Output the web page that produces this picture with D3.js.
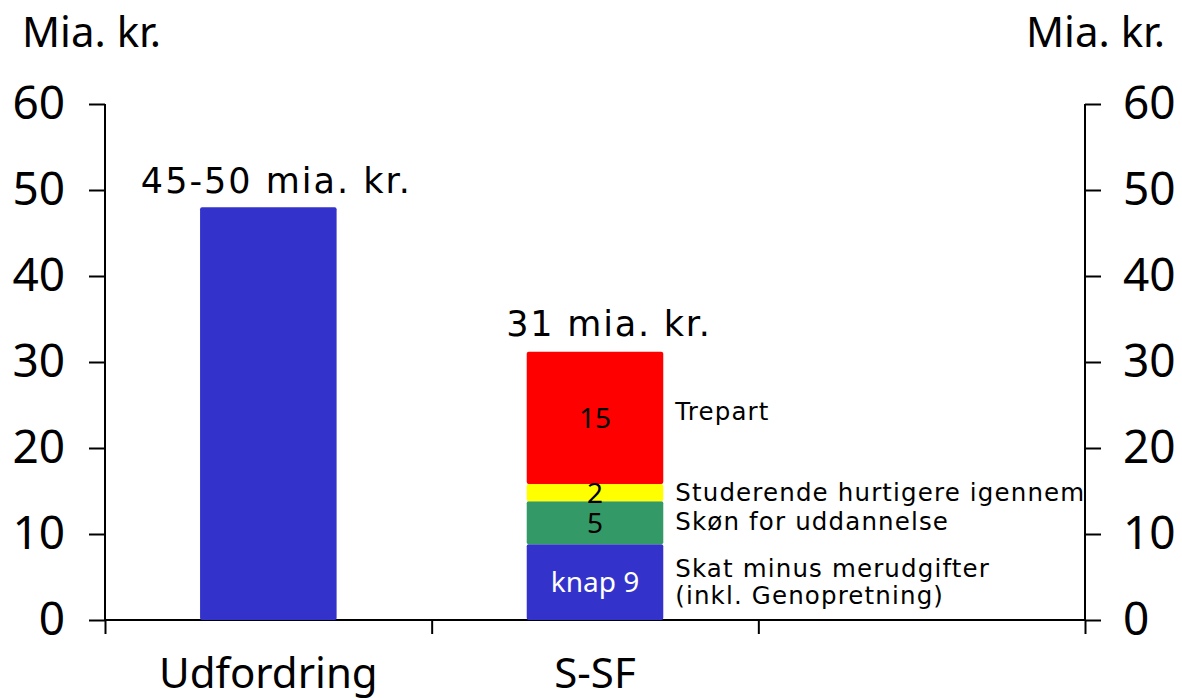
<!DOCTYPE html>
<html><head><meta charset="utf-8">
<script src="https://cdn.jsdelivr.net/npm/d3@7"></script>
<style>body{margin:0;background:#fff}</style>
</head><body>
<svg id="c" width="1182" height="698"></svg>
<script>
const categories = ["Udfordring", "S-SF", ""];
const challengeValue = 48;
const challengeLabel = "45-50 mia. kr.";
const segNames = ["Skat minus merudgifter\n(inkl. Genopretning)", "Skøn for uddannelse", "Studerende hurtigere igennem", "Trepart"];
const segValues = [8.8, 5, 2, 15.4];
const segLabels = ["knap 9", "5", "2", "15"];
const segColors = ["#3333CC", "#339966", "#FFFF00", "#FF0000"];
const segTextColors = ["#ffffff", "#000000", "#000000", "#000000"];
const stackLabel = "31 mia. kr.";
const yTicks = [0, 10, 20, 30, 40, 50, 60];
const axisTitle = "Mia. kr.";

const svg = d3.select("#c");
const L = 105, R = 1085, T = 104, B = 620;
const y = d3.scaleLinear().domain([0, 60]).range([B, T]);
const xb = d3.scaleBand().domain(categories).range([L, R]).padding(0);
const xl = d3.scaleLinear().domain([0, categories.length]).range([L, R]);
const barW = xb.bandwidth() * 0.418;
const numFont = "'Noto Sans', sans-serif";
const txtFont = "'DejaVu Sans', sans-serif";

// axes
const ga = svg.append("g").attr("transform", `translate(${L},0)`)
  .call(d3.axisLeft(y).tickValues(yTicks).tickSize(16).tickPadding(24));
const gr = svg.append("g").attr("transform", `translate(${R},0)`)
  .call(d3.axisRight(y).tickValues(yTicks).tickSize(16).tickPadding(22));
[ga, gr].forEach(g => {
  g.select(".domain").attr("stroke", "#000").attr("stroke-width", 2).attr("d", `M0,${T}V${B}`);
  g.selectAll(".tick line").attr("stroke", "#000").attr("stroke-width", 2);
  g.selectAll(".tick text").attr("font-family", numFont).attr("font-size", 46).attr("fill", "#000");
});
const gx = svg.append("g").attr("transform", `translate(0,${B})`)
  .call(d3.axisBottom(xl).tickValues(d3.range(categories.length + 1)).tickFormat("").tickSize(14));
gx.select(".domain").attr("stroke", "#000").attr("stroke-width", 2).attr("d", `M${L},0H${R}`);
gx.selectAll(".tick line").attr("stroke", "#000").attr("stroke-width", 2);

// category labels
svg.append("g").selectAll("text").data(categories.filter(d => d)).join("text")
  .attr("x", d => xb(d) + xb.bandwidth() / 2).attr("y", 688)
  .attr("text-anchor", "middle").attr("font-family", numFont).attr("font-size", 42).text(d => d);

// axis titles
svg.append("text").attr("x", 22).attr("y", 47).attr("font-family", numFont).attr("font-size", 42).text(axisTitle);
svg.append("text").attr("x", 1165).attr("y", 47).attr("text-anchor", "end").attr("font-family", numFont).attr("font-size", 42).text(axisTitle);

// challenge bar
const c0 = xb(categories[0]) + xb.bandwidth() / 2;
svg.append("rect").attr("x", c0 - barW / 2).attr("width", barW)
  .attr("y", y(challengeValue)).attr("height", y(0) - y(challengeValue))
  .attr("fill", "#3333CC").attr("rx", 2);
svg.append("text").attr("x", c0 + 8).attr("y", y(challengeValue) - 14).attr("text-anchor", "middle")
  .attr("font-family", txtFont).attr("font-size", 35).attr("letter-spacing", 2).text(challengeLabel);

// stacked bar
const c1 = xb(categories[1]) + xb.bandwidth() / 2;
let acc = 0;
const segs = segValues.map((v, i) => { const s = {i, y0: acc, y1: acc + v}; acc += v; return s; });
svg.append("g").selectAll("rect").data(segs).join("rect")
  .attr("x", c1 - barW / 2).attr("width", barW)
  .attr("y", d => y(d.y1)).attr("height", d => y(d.y0) - y(d.y1))
  .attr("fill", d => segColors[d.i]).attr("rx", 2);
svg.append("g").selectAll("text").data(segs).join("text")
  .attr("x", c1).attr("y", d => y((d.y0 + d.y1) / 2)).attr("dy", "0.35em")
  .attr("text-anchor", "middle").attr("font-family", numFont).attr("font-size", 28)
  .attr("fill", d => segTextColors[d.i]).text(d => segLabels[d.i]);
svg.append("text").attr("x", c1 + 14).attr("y", y(acc) - 16).attr("text-anchor", "middle")
  .attr("font-family", txtFont).attr("font-size", 35).attr("letter-spacing", 1.8).text(stackLabel);

// side labels
const sideOffsets = [0, -1, 0, -6];
segs.forEach(d => {
  const lines = segNames[d.i].split("\n");
  const cy = y((d.y0 + d.y1) / 2) + sideOffsets[d.i];
  lines.forEach((ln, k) => {
    svg.append("text").attr("x", c1 + barW / 2 + 12)
      .attr("y", cy + (k - (lines.length - 1) / 2) * 27).attr("dy", "0.35em")
      .attr("font-family", txtFont).attr("font-size", 24.5).attr("letter-spacing", 1.15).text(ln);
  });
});
</script>
</body></html>
